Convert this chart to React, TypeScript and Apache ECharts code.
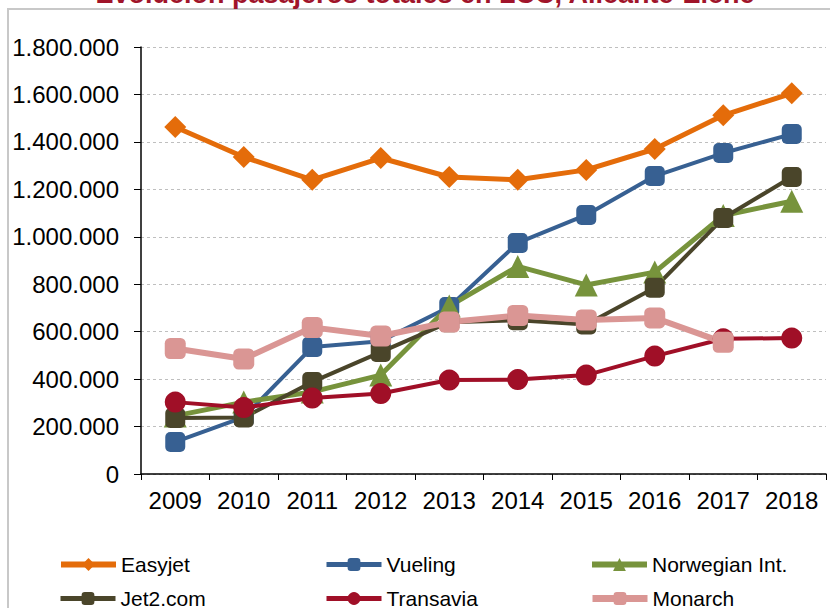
import React, { useEffect, useRef } from "react";
import * as echarts from "echarts";

const years = ["2009", "2010", "2011", "2012", "2013", "2014", "2015", "2016", "2017", "2018"];
const easyjet = [1463000, 1336000, 1240000, 1332000, 1252000, 1240000, 1282000, 1370000, 1512000, 1605000];
const vueling = [135000, 240000, 535000, 560000, 704000, 974000, 1092000, 1256000, 1353000, 1433000];
const norwegian = [245000, 303000, 346000, 417000, 708000, 875000, 797000, 851000, 1090000, 1150000];
const jet2 = [236000, 238000, 388000, 514000, 640000, 648000, 630000, 785000, 1079000, 1252000];
const transavia = [303000, 280000, 320000, 339000, 396000, 398000, 417000, 497000, 570000, 573000];
const monarch = [529000, 485000, 618000, 582000, 641000, 668000, 649000, 658000, 555000, null];
const yTicks = { min: 0, max: 1800000, interval: 200000 };
const titleText = "Evolución pasajeros totales en LCC, Alicante-Elche";

const FONT = '"Liberation Sans", Arial, sans-serif';

const seriesDefs = [
  { name: "Easyjet", data: easyjet, color: "#E46C0A", symbol: "diamond", size: 22, width: 5 },
  { name: "Vueling", data: vueling, color: "#376092", symbol: "roundRect", size: 20, width: 4 },
  { name: "Norwegian Int.", data: norwegian, color: "#77933C", symbol: "triangle", size: 23, width: 5 },
  { name: "Jet2.com", data: jet2, color: "#4A452A", symbol: "roundRect", size: 20, width: 4 },
  { name: "Transavia", data: transavia, color: "#A00F27", symbol: "circle", size: 21, width: 4 },
  { name: "Monarch", data: monarch, color: "#DA9694", symbol: "roundRect", size: 21, width: 6 },
];

const legendPos = [
  { left: 58, top: 554 },
  { left: 324, top: 554 },
  { left: 589, top: 554 },
  { left: 58, top: 588 },
  { left: 324, top: 588 },
  { left: 589, top: 588 },
];

export default function App() {
  const ref = useRef<HTMLDivElement>(null);
  useEffect(() => {
    if (!ref.current) return;
    const chart = echarts.init(ref.current, null, { renderer: "svg" });
    const fmt = (v: number) => String(v).replace(/\B(?=(\d{3})+(?!\d))/g, ".");
    chart.setOption({
      animation: false,
      backgroundColor: "#fff",
      grid: { left: 141, right: 4, top: 47, bottom: 134, containLabel: false },
      xAxis: {
        type: "category",
        data: years,
        boundaryGap: true,
        axisLine: { lineStyle: { color: "#000", width: 1.5 } },
        axisTick: { show: true, length: 6, interval: 0, lineStyle: { color: "#000" } },
        axisLabel: { fontSize: 24, color: "#000", fontFamily: FONT, margin: 14, interval: 0 },
      },
      yAxis: {
        type: "value",
        min: yTicks.min,
        max: yTicks.max,
        interval: yTicks.interval,
        axisLine: { show: true, lineStyle: { color: "#000", width: 1.5 } },
        axisTick: { show: true, length: 7, lineStyle: { color: "#000" } },
        axisLabel: { fontSize: 24, color: "#000", fontFamily: FONT, margin: 22, formatter: fmt },
        splitLine: { show: true, lineStyle: { color: "#BFBFBF", type: [3, 3], width: 1 } },
      },
      legend: seriesDefs.map((s, i) => ({
        data: [s.name],
        left: legendPos[i].left,
        top: legendPos[i].top,
        padding: 0,
        itemWidth: 55,
        itemHeight: 16,
        lineStyle: { width: s.width + 1 },
        textStyle: { fontSize: 21, color: "#000", fontFamily: FONT },
        selectedMode: false,
      })),
      series: seriesDefs.map((s) => ({
        name: s.name,
        type: "line",
        data: s.data,
        symbol: s.symbol,
        symbolSize: s.size,
        showAllSymbol: true,
        connectNulls: false,
        lineStyle: { color: s.color, width: s.width },
        itemStyle: { color: s.color, borderWidth: 0 },
        emphasis: { disabled: true },
      })),
      graphic: [
        {
          type: "rect",
          z: -1,
          shape: { x: 8, y: 9, width: 900, height: 800 },
          style: { fill: "none", stroke: "#C8C8C8", lineWidth: 2 },
        },
        {
          type: "text",
          x: 425,
          y: -6,
          style: {
            text: titleText,
            font: `bold 27px ${FONT}`,
            fill: "#A0142A",
            textAlign: "center",
            textVerticalAlign: "middle",
          },
        },
      ],
    });
    return () => chart.dispose();
  }, []);
  return <div ref={ref} style={{ position: "fixed", left: 0, top: 0, width: 830, height: 608 }} />;
}
